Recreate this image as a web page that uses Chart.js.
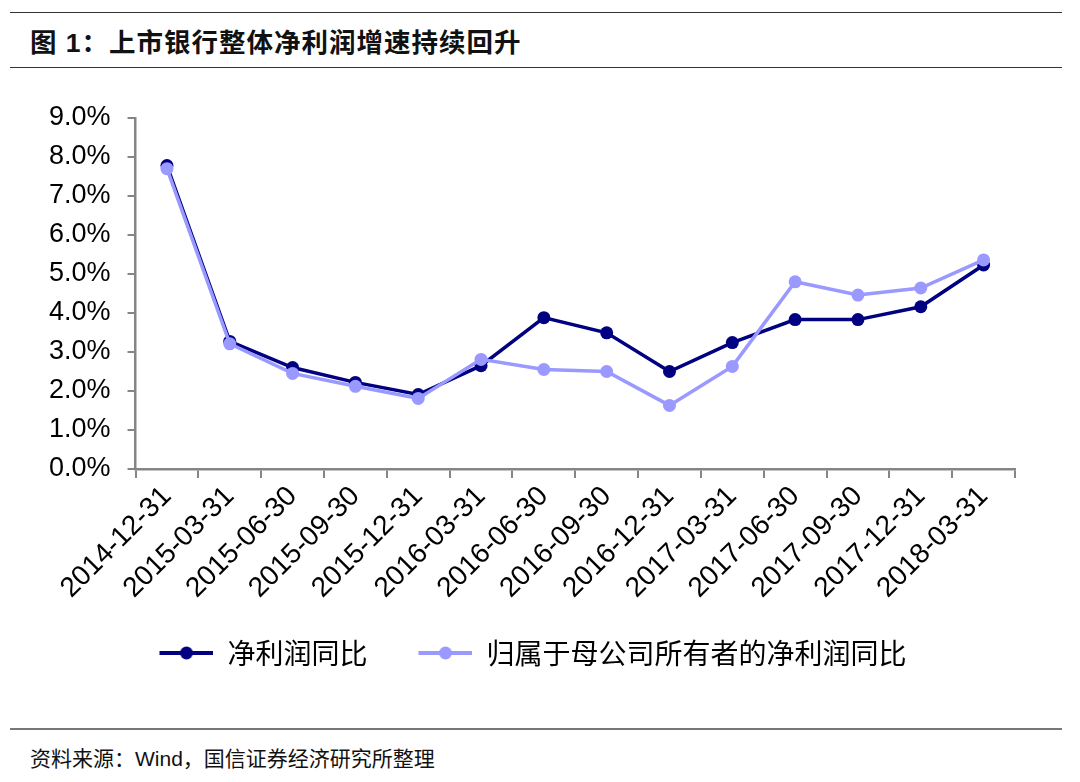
<!DOCTYPE html>
<html>
<head>
<meta charset="utf-8">
<script src="https://cdn.jsdelivr.net/npm/chart.js@4.4.1/dist/chart.umd.min.js"></script>
<style>
  body { margin: 0; background: #fff; width: 1080px; height: 782px; position: relative; overflow: hidden; font-family: "Liberation Sans", "Noto Sans CJK SC", sans-serif; }
  .rule { position: absolute; left: 10px; width: 1052px; }
  #title { position: absolute; left: 30px; top: 21px; font-size: 26.5px; font-weight: bold; color: #111; font-family: "Liberation Sans", "Noto Sans CJK SC", sans-serif; letter-spacing: 1px; }
  #source { position: absolute; left: 30px; top: 742px; font-size: 21px; color: #111; font-family: "Liberation Sans", "Noto Sans CJK SC", sans-serif; }
  #wrap { position: absolute; left: 0; top: 80px; width: 1080px; height: 608px; }
</style>
</head>
<body>
<div class="rule" style="top:12px;border-top:1.5px solid #333;"></div>
<div id="title">图 1：上市银行整体净利润增速持续回升</div>
<div class="rule" style="top:67px;border-top:1.5px solid #333;"></div>
<div id="wrap"><canvas id="chart"></canvas></div>
<div class="rule" style="top:728px;border-top:2px solid #777;"></div>
<div id="source">资料来源：Wind，国信证券经济研究所整理</div>
<script>
// 数据
const dates = ['2014-12-31', '2015-03-31', '2015-06-30', '2015-09-30', '2015-12-31', '2016-03-31', '2016-06-30',
               '2016-09-30', '2016-12-31', '2017-03-31', '2017-06-30', '2017-09-30', '2017-12-31', '2018-03-31'];
const netProfitYoy = [7.78, 3.27, 2.6, 2.22, 1.91, 2.65, 3.88, 3.49, 2.5, 3.24, 3.83, 3.83, 4.16, 5.23];// 净利润同比
const parentProfitYoy = [7.7, 3.21, 2.45, 2.12, 1.81, 2.81, 2.55, 2.5, 1.63, 2.63, 4.8, 4.46, 4.64, 5.36];// 归母净利润同比
const seriesNames = ['净利润同比', '归属于母公司所有者的净利润同比'];

const darkColor = '#000080';
const lightColor = '#9999ff';
const axisColor = '#858585';

// 图例：线段加圆点（左侧留空，拉开两项间距）
const iconGap = 19;
function legendIcon(color) {
    const c = document.createElement('canvas');
    c.width = 54 + iconGap; c.height = 16;
    const g = c.getContext('2d');
    g.strokeStyle = color; g.lineWidth = 4;
    g.beginPath(); g.moveTo(iconGap, 8); g.lineTo(iconGap + 54, 8); g.stroke();
    g.fillStyle = color;
    g.beginPath(); g.arc(iconGap + 27, 8, 6.5, 0, Math.PI * 2); g.fill();
    return c;
}
const icons = [legendIcon(darkColor), legendIcon(lightColor)];

new Chart(document.getElementById('chart'), {
    type: 'line',
    data: {
        labels: dates,
        datasets: [{
            label: seriesNames[0],
            data: netProfitYoy,
            borderColor: darkColor,
            backgroundColor: darkColor,
            borderWidth: 3.5,
            pointRadius: 6.5,
            pointBorderWidth: 0,
            order: 1
        }, {
            label: seriesNames[1],
            data: parentProfitYoy,
            borderColor: lightColor,
            backgroundColor: lightColor,
            borderWidth: 3.5,
            pointRadius: 6.5,
            pointBorderWidth: 0,
            order: 0
        }]
    },
    options: {
        responsive: true,
        maintainAspectRatio: false,
        animation: false,
        layout: { padding: { left: 32, right: 65, top: 38, bottom: 11 } },
        plugins: {
            tooltip: { enabled: false },
            legend: {
                position: 'bottom',
                labels: {
                    usePointStyle: true,
                    pointStyleWidth: 54 + iconGap,
                    padding: 32,
                    color: '#000',
                    font: { size: 28, family: '"Noto Sans CJK SC", sans-serif' },
                    sort: (a, b) => a.datasetIndex - b.datasetIndex,
                    generateLabels: (chart) => Chart.defaults.plugins.legend.labels.generateLabels(chart)
                        .map(l => ({ ...l, pointStyle: icons[l.datasetIndex] }))
                }
            }
        },
        scales: {
            x: {
                offset: true,
                grid: { display: true, drawOnChartArea: false, color: axisColor, lineWidth: 2, tickLength: 9, offset: true },
                border: { color: axisColor, width: 2.5 },
                ticks: {
                    color: '#000', maxRotation: 45, minRotation: 45, autoSkip: false, padding: 2,
                    font: { size: 28, family: '"Liberation Sans", Arial, sans-serif' }
                }
            },
            y: {
                min: 0, max: 9,
                grid: { display: true, drawOnChartArea: false, color: axisColor, lineWidth: 2, tickLength: 8 },
                border: { color: axisColor, width: 2.5 },
                ticks: {
                    stepSize: 1, color: '#000', padding: 17,
                    font: { size: 27, family: '"Liberation Sans", Arial, sans-serif' },
                    callback: v => v.toFixed(1) + '%'
                }
            }
        }
    }
});
</script>
</body>
</html>
